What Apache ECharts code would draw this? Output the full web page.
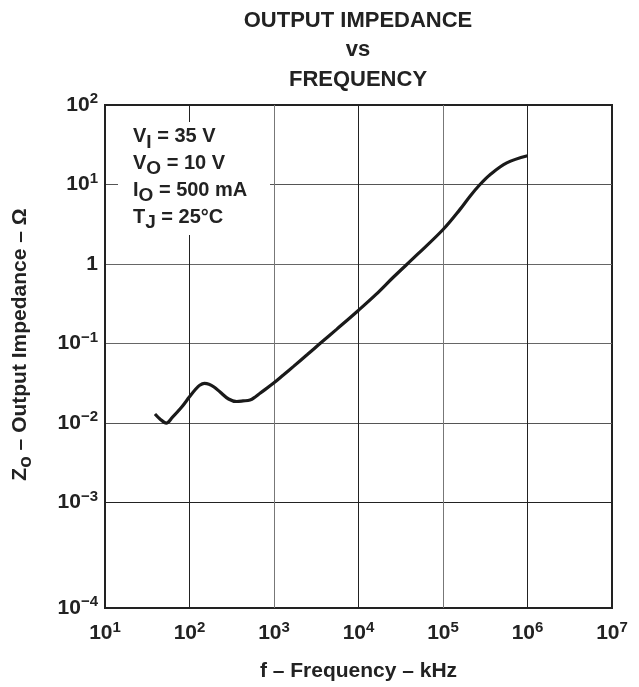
<!DOCTYPE html>
<html><head><meta charset="utf-8">
<script src="https://cdn.jsdelivr.net/npm/echarts@6/dist/echarts.min.js"></script>
<style>html,body{margin:0;padding:0;background:#fff}#c{width:639px;height:687px}</style>
</head><body><div id="c"></div>
<script>
// Frequency in kHz and output impedance in ohms
const freqKHz = [39, 45, 53, 63, 80, 100, 118, 132, 150, 170, 195, 230, 290, 362, 430, 520, 600, 683, 982, 1300, 1690, 2500, 3500, 5500, 9950, 16000, 25800, 50100, 100900, 159000, 209000, 274000, 360000, 568000, 1000000];
const impedanceOhm = [0.0130, 0.0112, 0.0100, 0.0119, 0.0157, 0.0214, 0.0266, 0.0299, 0.0316, 0.0309, 0.0285, 0.0246, 0.0201, 0.0187, 0.0190, 0.0195, 0.0213, 0.0237, 0.0316, 0.0405, 0.0513, 0.0733, 0.100, 0.151, 0.261, 0.412, 0.682, 1.33, 2.74, 4.87, 7.14, 10.0, 13.3, 18.7, 23.0];

// Axis decades (log10)
const xDecades = [1, 2, 3, 4, 5, 6, 7];
const xTickExponents = ['1', '2', '3', '4', '5', '6', '7'];
const yAxisBottom = -4.325; // bottom edge of the drawn frame (labelled 10^-4)
const yTickValues = [yAxisBottom, -3, -2, -1, 0, 1, 2];
const yTickBases = ['10', '10', '10', '10', '1', '10', '10'];
const yTickExponents = ['−4', '−3', '−2', '−1', '', '1', '2'];

const FONT = '"Liberation Sans", Arial, Helvetica, sans-serif';

const seriesData = freqKHz.map((f, i) => [Math.log10(f), Math.log10(impedanceOhm[i])]);

const chart = echarts.init(document.getElementById('c'), null, {renderer: 'canvas'});

const labelRich = {
  b: {fontFamily: FONT, fontWeight: 'bold', fontSize: 21, color: '#222'},
  s: {fontFamily: FONT, fontWeight: 'bold', fontSize: 15, color: '#222', padding: [0, 0, 12, 0]}
};

function annotLine(parts, y) {
  return {
    type: 'text',
    x: 133, y: y,
    z: 20,
    style: {
      text: parts,
      verticalAlign: 'middle',
      align: 'left',
      fill: '#222',
      font: 'bold 20px ' + FONT,
      rich: {
        m: {fontFamily: FONT, fontWeight: 'bold', fontSize: 20, fill: '#222', color: '#222'},
        sub: {fontFamily: FONT, fontWeight: 'bold', fontSize: 19, fill: '#222', color: '#222', padding: [12, 0, 0, 0]}
      }
    }
  };
}

const option = {
  backgroundColor: '#fff',
  animation: false,
  title: {
    text: 'OUTPUT IMPEDANCE\nvs\nFREQUENCY',
    left: 358, top: 6, padding: 0,
    textAlign: 'center',
    textStyle: {fontFamily: FONT, fontWeight: 'bold', fontSize: 22, color: '#222', lineHeight: 29.5}
  },
  grid: {left: 105, top: 105, right: 27, bottom: 75, show: true, borderColor: '#222', borderWidth: 2, backgroundColor: 'transparent'},
  xAxis: {
    type: 'value', min: xDecades[0], max: xDecades[xDecades.length - 1], interval: 1,
    name: 'f – Frequency – kHz', nameLocation: 'middle', nameGap: 53,
    nameTextStyle: {fontFamily: FONT, fontWeight: 'bold', fontSize: 21, color: '#222'},
    axisLine: {show: false}, axisTick: {show: false},
    axisLabel: {
      margin: 12,
      formatter: v => {
        const i = xDecades.indexOf(Math.round(v));
        return '{b|10}{s|' + xTickExponents[i] + '}';
      },
      rich: labelRich
    },
    splitLine: {show: true, lineStyle: {width: 1, color: ['#222', '#222', '#777', '#222', '#777', '#222', '#222']}}
  },
  yAxis: {
    type: 'value', min: yAxisBottom, max: 2,
    name: '{m|Z}{sub|o}{m| – Output Impedance – Ω}', nameLocation: 'middle', nameGap: 70, nameRotate: 90,
    nameTextStyle: {
      fontFamily: FONT, fontWeight: 'bold', fontSize: 21, color: '#222',
      padding: [0, 0, 0, 24],
      rich: {
        m: {fontFamily: FONT, fontWeight: 'bold', fontSize: 21, color: '#222'},
        sub: {fontFamily: FONT, fontWeight: 'bold', fontSize: 19, color: '#222', padding: [10, 0, 0, 0]}
      }
    },
    axisLine: {show: false},
    axisTick: {show: false, customValues: yTickValues},
    axisLabel: {
      margin: 7,
      customValues: yTickValues,
      formatter: v => {
        let i = yTickValues.findIndex(t => Math.abs(t - v) < 1e-6);
        if (i < 0) i = 0;
        return yTickExponents[i] ? '{b|' + yTickBases[i] + '}{s|' + yTickExponents[i] + '}' : '{b|' + yTickBases[i] + '}';
      },
      rich: labelRich
    },
    splitLine: {show: true, lineStyle: {width: 1, color: ['#222', '#222', '#555', '#666', '#666', '#555', '#222']}}
  },
  graphic: [
    {type: 'rect', z: 15, shape: {x: 118, y: 122, width: 152, height: 113}, style: {fill: '#fff'}},
    annotLine('{m|V}{sub|I}{m| = 35 V}', 136.5),
    annotLine('{m|V}{sub|O}{m| = 10 V}', 163),
    annotLine('{m|I}{sub|O}{m| = 500 mA}', 190),
    annotLine('{m|T}{sub|J}{m| = 25°C}', 217)
  ],
  series: [{
    type: 'line',
    data: seriesData,
    smooth: 0.35,
    showSymbol: false,
    lineStyle: {color: '#1a1a1a', width: 3.2},
    z: 5
  }]
};
chart.setOption(option);
</script>
</body></html>
